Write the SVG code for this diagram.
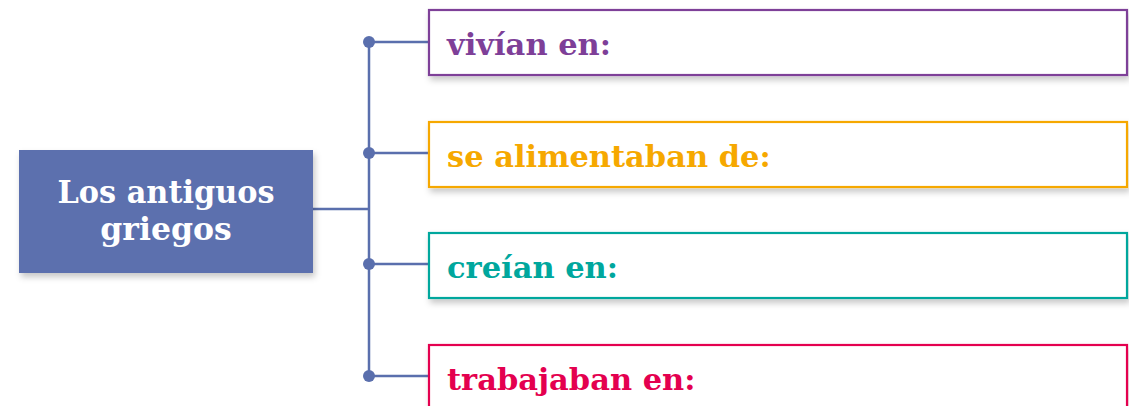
<svg xmlns="http://www.w3.org/2000/svg" width="1129" height="406" viewBox="0 0 1129 406">
<defs>
<filter id="sh" x="-10%" y="-20%" width="120%" height="160%">
<feDropShadow dx="2" dy="4" stdDeviation="3" flood-color="#000" flood-opacity="0.22"/>
</filter>
</defs>
<style>
.lbl{font-family:"DejaVu Serif",serif;font-weight:bold;font-size:30.5px}
.ttl{font-family:"DejaVu Serif",serif;font-weight:bold;font-size:31.5px;fill:#fff}
.box{fill:#fff;stroke-width:2.2}
.conn{stroke:#5a6fad;stroke-width:2.5;fill:none}
.dot{fill:#5a6fad}
</style>
<rect width="1129" height="406" fill="#fff"/>
<g id="connectors">
<path class="conn" d="M313 209H369M369 42V376M369 42H428M369 153H428M369 264H428M369 376H428"/>
<circle class="dot" cx="369" cy="42" r="6"/>
<circle class="dot" cx="369" cy="153" r="6"/>
<circle class="dot" cx="369" cy="264" r="6"/>
<circle class="dot" cx="369" cy="376" r="6"/>
</g>
<g id="root">
<rect x="19" y="150" width="294" height="123" fill="#5b6fae" filter="url(#sh)"/>
<text class="ttl" x="166" y="203" text-anchor="middle" textLength="217" lengthAdjust="spacingAndGlyphs">Los antiguos</text>
<text class="ttl" x="166" y="240" text-anchor="middle">griegos</text>
</g>
<g id="n1">
<rect class="box" x="429" y="10" width="698" height="65" stroke="#7e3f98" filter="url(#sh)"/>
<text class="lbl" x="447" y="55" fill="#7e3f98">vivían en:</text>
</g>
<g id="n2">
<rect class="box" x="429" y="122" width="698" height="65" stroke="#f6a800" filter="url(#sh)"/>
<text class="lbl" x="447" y="167" fill="#f6a800">se alimentaban de:</text>
</g>
<g id="n3">
<rect class="box" x="429" y="233" width="698" height="65" stroke="#00a79d" filter="url(#sh)"/>
<text class="lbl" x="447" y="278" fill="#00a79d">creían en:</text>
</g>
<g id="n4">
<rect class="box" x="429" y="345" width="698" height="80" stroke="#e4004f" filter="url(#sh)"/>
<text class="lbl" x="447" y="390" fill="#e4004f">trabajaban en:</text>
</g>
</svg>
